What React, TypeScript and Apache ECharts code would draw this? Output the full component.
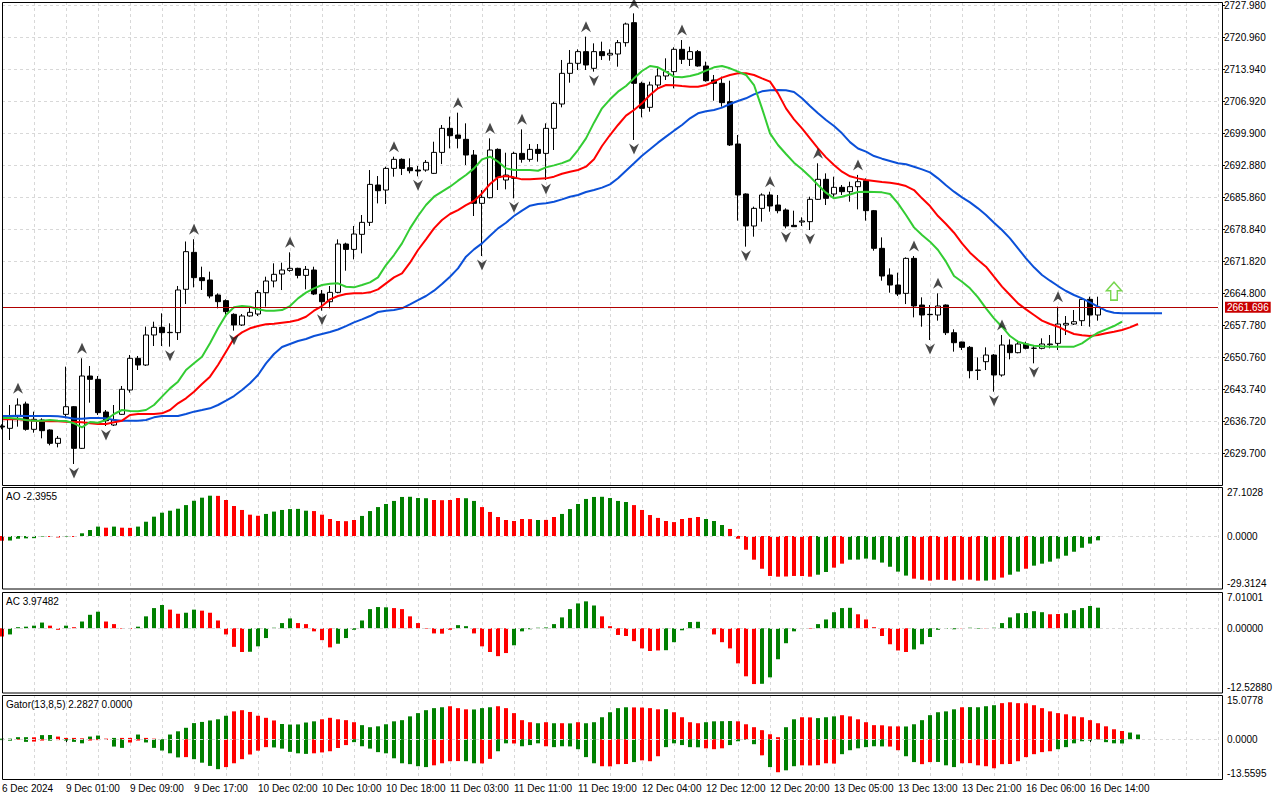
import React, { useEffect, useRef } from "react";
import * as echarts from "echarts";

const FONT = "Liberation Sans";
const GREEN = "#008000";
const RED = "#ff0000";
const GRIDC = "#d8d8d8";

const timeLabels = ["6 Dec 2024","9 Dec 01:00","9 Dec 09:00","9 Dec 17:00","10 Dec 02:00","10 Dec 10:00","10 Dec 18:00","11 Dec 03:00","11 Dec 11:00","11 Dec 19:00","12 Dec 04:00","12 Dec 12:00","12 Dec 20:00","13 Dec 05:00","13 Dec 13:00","13 Dec 21:00","16 Dec 06:00","16 Dec 14:00"];
const SLOTS = 153;

const opens = [2635.60,2635.11,2637.67,2640.45,2634.89,2636.94,2634.75,2631.82,2638.18,2639.86,2630.72,2646.59,2645.86,2638.69,2635.84,2638.18,2643.52,2650.47,2649.00,2655.59,2657.27,2656.10,2656.10,2665.61,2673.72,2668.17,2667.65,2664.36,2663.12,2660.12,2657.78,2659.76,2660.19,2664.87,2667.43,2668.96,2669.77,2670.21,2668.67,2669.84,2664.58,2662.89,2664.94,2675.55,2674.37,2677.67,2680.30,2688.49,2687.39,2692.14,2694.12,2692.29,2691.78,2691.78,2691.05,2695.65,2700.92,2699.46,2698.51,2695.07,2684.47,2685.71,2696.31,2689.59,2689.95,2695.43,2694.12,2696.31,2695.43,2700.92,2706.26,2712.99,2715.19,2717.75,2714.09,2717.75,2717.01,2717.23,2719.72,2724.11,2710.80,2705.53,2710.43,2712.41,2713.36,2718.26,2716.06,2717.75,2714.60,2711.53,2710.80,2706.77,2697.49,2686.52,2679.50,2683.37,2686.30,2684.10,2683.01,2679.64,2680.38,2680.45,2685.35,2689.74,2686.52,2687.98,2687.03,2688.13,2689.44,2682.86,2674.60,2668.75,2666.55,2664.72,2672.40,2662.16,2660.12,2659.97,2662.16,2656.09,2654.05,2652.88,2647.90,2649.73,2651.19,2646.81,2653.39,2651.71,2653.61,2652.66,2652.66,2653.46,2653.75,2657.78,2658.00,2658.73,2663.41,2659.97];
const closes = [2635.40,2637.16,2640.23,2634.89,2637.09,2634.60,2631.82,2632.92,2639.86,2630.72,2646.59,2645.86,2638.55,2636.79,2636.94,2643.67,2650.47,2649.00,2655.59,2657.27,2656.10,2656.17,2665.46,2673.87,2668.17,2667.51,2664.14,2662.90,2660.71,2657.78,2659.76,2660.56,2664.87,2667.43,2668.90,2669.84,2670.21,2668.67,2669.99,2664.58,2662.89,2664.94,2675.55,2674.37,2677.74,2680.30,2688.63,2687.24,2692.14,2694.12,2692.14,2691.63,2691.56,2693.46,2695.65,2700.92,2699.31,2698.73,2695.07,2684.47,2685.78,2696.17,2690.17,2690.68,2695.43,2694.12,2696.31,2695.43,2700.92,2706.40,2712.99,2715.19,2717.75,2714.82,2717.75,2716.87,2717.38,2719.72,2723.81,2710.80,2705.31,2710.43,2712.41,2713.36,2718.26,2716.06,2717.75,2714.60,2711.38,2710.80,2706.56,2697.27,2686.30,2679.50,2683.37,2686.30,2683.89,2682.86,2679.50,2679.35,2680.60,2685.35,2689.74,2685.57,2687.98,2687.03,2688.13,2689.22,2682.86,2674.60,2668.53,2666.55,2664.58,2672.40,2661.95,2659.97,2660.05,2661.95,2656.09,2653.90,2652.88,2647.76,2647.83,2651.19,2646.81,2653.39,2651.71,2653.61,2652.66,2652.70,2653.61,2653.61,2657.99,2658.14,2658.51,2663.41,2659.97,2661.70];
const lows = [2634.90,2632.55,2635.48,2634.60,2634.16,2632.92,2631.38,2630.94,2637.30,2627.29,2630.58,2640.74,2638.04,2635.62,2635.62,2638.04,2642.94,2647.91,2648.79,2653.17,2653.17,2653.03,2654.49,2662.39,2666.04,2665.46,2663.63,2661.44,2659.61,2656.54,2657.56,2659.61,2659.76,2661.80,2666.04,2665.45,2669.47,2668.01,2665.60,2664.35,2660.92,2661.43,2664.72,2669.69,2672.18,2673.50,2679.50,2684.46,2684.32,2690.32,2690.68,2691.05,2690.40,2691.41,2690.90,2693.09,2696.53,2696.53,2692.88,2681.69,2672.91,2685.56,2687.39,2687.54,2685.56,2693.39,2693.61,2693.61,2689.59,2696.17,2705.53,2710.94,2713.72,2713.72,2713.36,2715.92,2715.77,2714.45,2718.84,2698.37,2703.34,2704.58,2709.70,2711.53,2709.70,2715.04,2714.60,2714.45,2711.16,2706.99,2705.68,2697.05,2680.67,2674.97,2677.16,2680.45,2682.64,2682.28,2678.99,2679.35,2679.50,2678.62,2685.20,2684.10,2685.93,2686.30,2684.83,2683.15,2680.67,2674.08,2667.50,2664.87,2664.14,2662.38,2659.46,2657.41,2654.49,2658.73,2655.58,2651.93,2652.29,2646.08,2645.71,2647.90,2643.15,2646.44,2650.24,2651.56,2652.44,2649.37,2652.44,2652.66,2652.29,2655.58,2657.78,2657.56,2657.41,2658.73];
const highs = [2636.00,2640.23,2641.69,2640.96,2638.77,2637.30,2634.89,2633.43,2648.64,2640.01,2650.47,2648.79,2646.59,2639.13,2640.23,2644.40,2651.20,2650.98,2657.42,2658.51,2660.34,2658.15,2666.34,2676.10,2676.60,2670.58,2669.48,2664.73,2663.41,2660.34,2660.19,2661.80,2665.46,2668.38,2671.31,2671.45,2673.72,2670.35,2670.72,2670.57,2665.45,2666.33,2676.57,2675.84,2679.50,2681.91,2691.78,2690.46,2692.51,2694.70,2694.34,2694.34,2692.66,2693.97,2697.99,2701.65,2703.48,2704.36,2702.02,2696.17,2687.39,2698.73,2696.53,2695.58,2695.80,2700.70,2697.48,2697.48,2702.02,2706.77,2715.92,2718.11,2718.26,2721.04,2719.57,2719.94,2718.26,2720.30,2724.11,2726.15,2711.16,2711.16,2714.09,2716.28,2718.70,2720.30,2718.84,2718.11,2715.55,2712.63,2712.26,2711.38,2699.46,2686.66,2683.74,2686.66,2687.03,2686.30,2683.37,2682.86,2681.40,2685.93,2693.25,2691.05,2690.32,2688.49,2689.22,2690.70,2689.95,2683.01,2677.01,2670.21,2669.26,2672.62,2672.91,2663.85,2662.16,2664.72,2662.31,2656.83,2654.12,2653.17,2650.68,2652.88,2651.41,2655.58,2654.63,2654.34,2654.12,2653.17,2654.85,2655.58,2661.80,2659.75,2661.07,2663.63,2663.99,2663.99];

// Alligator: jaw (blue), teeth (red), lips (green), already shifted forward
const jaw = [2637.81,2637.81,2637.89,2637.81,2637.81,2637.81,2637.81,2637.74,2637.52,2637.23,2637.23,2637.38,2637.38,2637.30,2636.94,2636.79,2636.79,2636.79,2636.94,2637.52,2637.81,2637.81,2637.81,2638.26,2638.77,2639.13,2639.50,2640.23,2641.18,2642.20,2643.52,2644.99,2646.81,2649.37,2651.42,2652.95,2653.61,2654.27,2654.71,2655.36,2655.80,2656.24,2656.79,2657.55,2658.36,2659.02,2659.75,2660.63,2660.92,2661.07,2661.43,2662.31,2663.26,2664.14,2665.31,2666.77,2668.38,2670.21,2672.77,2674.37,2675.69,2677.37,2678.98,2680.22,2681.69,2682.86,2683.95,2684.32,2684.47,2684.83,2685.34,2685.93,2686.30,2686.96,2687.40,2687.91,2688.64,2689.96,2691.64,2693.25,2694.93,2696.32,2697.78,2699.10,2700.41,2701.66,2703.12,2704.22,2704.66,2704.95,2705.46,2706.26,2706.92,2707.51,2708.38,2709.04,2709.26,2709.34,2709.26,2708.90,2707.51,2705.82,2704.22,2702.75,2701.44,2699.83,2697.90,2696.50,2695.80,2694.85,2694.27,2693.76,2693.25,2693.03,2692.51,2691.93,2691.27,2689.95,2688.42,2687.03,2685.79,2684.69,2683.37,2681.91,2680.23,2678.62,2676.79,2674.60,2672.40,2670.43,2668.75,2667.50,2666.33,2665.24,2664.36,2663.63,2662.75,2661.80,2660.92,2660.48,2660.34,2660.34,2660.34,2660.34,2660.34,2660.34];
const teeth = [2637.08,2637.08,2637.08,2636.94,2636.79,2636.72,2636.65,2636.65,2636.57,2636.50,2636.43,2636.21,2636.06,2636.06,2636.43,2636.79,2638.04,2638.26,2638.26,2638.26,2638.40,2639.13,2640.60,2641.69,2643.15,2644.84,2646.45,2649.00,2651.93,2654.86,2656.17,2657.05,2657.56,2657.93,2658.07,2658.29,2658.51,2658.87,2659.60,2660.92,2661.94,2663.40,2664.14,2664.58,2664.72,2664.72,2664.94,2665.60,2666.92,2668.23,2669.11,2671.45,2674.23,2676.57,2678.98,2680.81,2682.13,2683.00,2684.10,2684.98,2686.66,2688.71,2690.17,2690.46,2690.17,2689.73,2689.73,2689.88,2689.95,2690.32,2690.97,2691.42,2691.78,2692.51,2694.12,2697.05,2699.46,2701.66,2703.70,2704.95,2706.41,2708.24,2709.70,2710.43,2710.36,2710.21,2710.07,2710.07,2710.43,2711.16,2712.04,2712.63,2712.99,2712.99,2712.63,2711.89,2711.16,2708.60,2705.31,2702.90,2700.92,2698.73,2696.54,2694.56,2692.88,2691.42,2690.40,2689.95,2689.59,2689.37,2689.15,2689.00,2688.71,2688.27,2687.39,2685.57,2683.88,2681.69,2679.93,2678.03,2675.69,2673.65,2672.04,2670.58,2668.38,2666.19,2664.36,2662.53,2661.21,2659.97,2658.73,2658.00,2657.41,2656.53,2655.80,2655.51,2655.36,2655.58,2655.95,2656.31,2656.68,2657.27,2658.00];
const lips = [2637.38,2637.38,2637.23,2636.94,2636.79,2636.79,2636.94,2636.79,2636.72,2636.21,2635.33,2636.50,2636.35,2636.94,2638.26,2639.13,2638.91,2638.84,2639.13,2640.23,2642.06,2643.88,2645.35,2647.91,2649.37,2650.83,2653.76,2657.05,2659.97,2661.66,2661.95,2661.80,2661.22,2660.93,2660.93,2661.06,2661.94,2663.62,2664.87,2665.82,2666.55,2666.84,2666.92,2666.18,2666.04,2666.55,2667.13,2668.23,2670.94,2673.13,2675.69,2678.98,2681.69,2684.10,2685.93,2687.03,2688.12,2689.44,2690.68,2692.14,2694.12,2694.70,2693.61,2692.14,2691.78,2691.78,2691.78,2691.63,2692.36,2692.80,2693.30,2693.98,2696.17,2698.73,2702.17,2705.31,2707.29,2708.97,2710.21,2711.89,2713.50,2714.60,2714.31,2713.36,2712.26,2712.11,2712.41,2712.85,2713.58,2714.31,2714.60,2714.09,2713.36,2712.63,2710.43,2705.31,2699.83,2697.27,2695.29,2693.39,2691.93,2690.32,2688.49,2686.81,2685.57,2685.93,2686.40,2686.96,2687.03,2686.96,2686.88,2686.52,2684.47,2681.91,2679.20,2677.52,2676.06,2674.23,2671.67,2668.53,2667.28,2665.82,2663.85,2661.43,2659.24,2657.41,2655.36,2654.12,2653.61,2653.24,2653.10,2653.02,2653.02,2653.02,2653.02,2653.75,2654.98,2656.09,2656.83,2657.56,2658.51];

const fractalUp = [2,10,24,36,49,57,61,65,73,79,85,96,102,107,114,117,125,132];
const fractalDown = [9,13,21,29,40,52,60,64,68,74,79,93,98,101,116,124,129];

const lastPrice = 2661.696;
const signalBar = 139;
const signalPrice = 2665.2;

const aoValues = [-2.6,-2.5,-1.5,-1.3,-1.2,-0.3,-0.5,-0.8,-0.3,-0.5,1.5,3.3,5.2,4.6,5.2,4.6,4.5,5.2,7.9,10.7,12.9,14.0,15.1,17.1,19.5,21.2,22.3,22.2,19.9,16.6,14.4,11.8,11.2,12.2,13.5,14.4,14.9,15.0,14.0,13.8,11.8,9.4,8.3,8.2,8.85,11.1,13.8,16.0,17.7,19.4,21.6,21.7,21.0,20.9,19.9,19.8,19.9,21.0,20.9,19.4,16.0,13.3,10.5,8.85,8.3,9.4,9.35,8.85,8.9,10.5,12.2,14.9,17.7,20.5,21.6,21.7,21.0,19.4,18.8,17.1,14.4,11.6,10.0,8.3,7.7,9.4,10.0,10.5,9.4,8.3,6.1,3.9,-1.5,-7.6,-13.1,-18.1,-22.1,-22.5,-22.4,-22.1,-22.15,-22.5,-21.4,-19.9,-17.5,-15.3,-13.1,-13.05,-12.5,-13.1,-14.7,-17.0,-19.7,-21.9,-23.6,-24.2,-24.7,-24.2,-24.3,-24.7,-24.2,-24.15,-24.7,-24.65,-24.2,-23.0,-21.4,-19.7,-18.1,-16.4,-15.3,-14.2,-12.5,-10.9,-8.7,-6.5,-4.2,-2.3955];
const aoColors = "rggggg" + "rrgrgggrgrrggggggggggrrrrrrggggggrrrrrrgggggggggrrrrggrrrrrrrgrrgggggggggrrrrrrrrrgggrrrrrrrrrrrggrrggggggggrrrrrrrrrgrrggrggggggggggggggg";
const acValues = [-1.6,-1.2,0.2,0.3,0.5,1.1,0.5,-0.3,0.5,0.2,1.3,2.6,3.2,1.3,0.8,-0.1,-0.15,0.3,2.3,3.9,4.5,3.6,2.8,3.0,3.6,3.4,3.0,1.5,-1.2,-3.6,-4.6,-4.55,-3.5,-1.9,0.1,1.0,1.9,1.0,0.8,-0.6,-2.3,-3.7,-3.0,-1.9,-0.3,1.5,3.7,4.1,4.05,3.9,3.7,2.3,1.0,-0.1,-1.0,-1.05,-0.3,0.6,0.4,-1.0,-3.5,-4.6,-5.4,-4.8,-3.3,-0.6,-0.2,0.1,0.15,0.8,2.1,3.7,4.8,5.2,4.4,2.3,0.4,-1.3,-1.5,-2.5,-3.9,-4.4,-4.3,-4.25,-2.7,-0.4,1.2,1.25,0.05,-1.2,-2.7,-3.9,-6.8,-9.3,-10.8,-10.75,-9.5,-6.0,-2.9,-0.6,0.05,-0.1,0.8,1.7,3.1,3.9,3.95,2.7,1.7,0.2,-1.5,-3.1,-4.3,-4.6,-4.1,-3.1,-1.7,-0.3,-0.1,-0.2,-0.05,0.1,-0.1,0.05,0.1,1.0,2.1,2.9,2.95,3.3,3.1,2.7,2.75,2.9,3.5,3.9,4.3,3.97482];
const acColors = "rggggg" + "rrgrgggrrrrggggrrggrrrrrrggggggrrrrrgggggggrrrrrrrrggrrrrrgggggggggggrrrrrrrrggggggrrrrrrggggggrgggggrrrrrrrggggggrggrgggggggrrgggggr";

const gatorUpper = [0.2,0.2,0.7,0.7,0.65,1.4,1.45,0.9,0.45,0.45,0.3,0.9,1.25,0.2,0.45,0.45,0.45,1.6,0.45,0.2,0.05,1.6,2.7,3.9,5.5,5.9,6.4,6.8,8.0,9.5,9.9,9.3,8.0,7.3,6.4,5.2,5.0,5.05,5.7,6.1,6.8,7.3,6.8,6.5,5.8,4.8,4.1,4.4,5.1,6.1,6.5,7.8,8.9,9.9,10.6,10.9,11.25,10.6,10.2,10.15,10.6,10.9,11.25,10.6,8.9,6.5,5.8,5.45,5.8,5.45,5.46,5.4,5.8,5.45,5.8,7.5,9.2,10.6,10.9,10.85,10.8,10.6,10.2,10.25,9.2,7.5,5.8,5.45,5.8,6.1,6.15,6.2,6.1,5.1,4.1,3.1,1.7,0.7,4.1,6.8,7.5,7.45,7.2,7.5,7.8,8.2,7.8,6.8,5.8,4.8,4.75,4.4,4.38,4.35,5.1,6.5,8.2,9.2,9.5,10.2,10.9,10.95,10.9,11.25,11.6,12.3,12.6,12.3,12.25,11.6,10.6,9.5,8.9,8.5,7.8,7.5,6.5,5.45,4.4,3.4,2.8,2.28,1.6];
const gatorUpperColors = "gggg" + "rggrrrrggrgrrgrrgggggggggrrrrrrggggg" + "rrrrrgggggggggggrrrgggrrrrrgrgrgrggggggrrrrgrrrrgggg" + "rrrrrrggrrgggrrrrrrrrgggggggrggggrrrrrrrrrrrrrrrr";
const gatorLower = [-0.3,-0.5,-0.2,-0.9,-0.8,-0.45,-0.5,-0.3,-0.45,-0.9,-1.4,-0.45,-0.3,-0.25,-2.5,-2.95,-1.1,-0.45,-1.1,-2.95,-3.85,-4.8,-6.2,-6.1,-6.8,-8.0,-9.1,-10.2,-9.5,-8.2,-6.8,-5.2,-3.9,-2.7,-2.8,-3.2,-4.3,-4.8,-5.0,-4.8,-4.5,-4.1,-3.0,-2.0,-1.0,-2.4,-3.2,-4.4,-4.8,-6.5,-8.2,-8.5,-9.2,-9.5,-8.9,-8.2,-7.5,-7.45,-7.5,-8.2,-8.25,-6.7,-4.1,-1.4,-1.45,-2.4,-2.0,-1.4,-2.4,-2.7,-2.4,-2.45,-3.4,-6.1,-8.2,-9.2,-9.25,-8.5,-8.45,-7.8,-7.2,-7.5,-5.8,-2.7,-1.4,-2.0,-2.7,-2.75,-3.1,-3.4,-3.1,-2.0,-0.7,-0.2,-1.7,-5.5,-9.5,-11.25,-10.6,-9.2,-8.9,-8.95,-8.85,-8.2,-8.3,-5.1,-3.75,-3.1,-2.7,-2.4,-2.45,-2.5,-3.75,-5.8,-7.8,-8.5,-7.8,-7.75,-8.9,-9.5,-8.2,-8.15,-8.9,-9.2,-9.9,-8.5,-8.45,-7.5,-6.1,-5.1,-4.4,-4.1,-3.4,-2.7,-1.4,-0.7,-0.45,-0.1,-1.0,-1.4,-1.45];
const gatorLowerColors = "ggrgrrgrgggrrrggrrgggggrgggg" + "rrrrrrggggg" + "rrrrrggggggggggrrrrggrrgg" + "rgggrggggggrrrrgrrrgggggrrrgggg" + "rgrggrrrrrggggggrrggrrggg" + "rrrrrrrrrrrrggg";

const AO_MAX = 27.1028, AO_MIN = -29.3124;
const AC_MAX = 7.01001, AC_MIN = -12.5288;
const G_MAX = 15.0778, G_MIN = -13.5595;
const PRICE_MIN = 2622.68, PRICE_MAX = 2728.64, PRICE_STEP = 7.02;

const UP_ARROW = "path://M5,0 L10,11 L5,7.5 L0,11 Z";
const DOWN_ARROW = "path://M5,11 L10,0 L5,3.5 L0,0 Z";
const SIGNAL_ARROW = "path://M8,0 L16,9 L11.5,9 L11.5,19 L4.5,19 L4.5,9 L0,9 Z";

const colorOf = (s: string, i: number) => (s.charAt(i) === "r" ? RED : GREEN);

function subFormatter(min: number, max: number, dec: number) {
  return (v: number) => {
    if (Math.abs(v - max) < 1e-6) return "\n" + max.toFixed(dec);
    if (Math.abs(v - min) < 1e-6) return min.toFixed(dec) + "\n";
    if (Math.abs(v) < 1e-6) return (0).toFixed(dec);
    return "";
  };
}

export default function App() {
  const ref = useRef<HTMLDivElement>(null);

  useEffect(() => {
    if (!ref.current) return;
    const chart = echarts.init(ref.current, undefined, { renderer: "svg" });
    const cats = Array.from({ length: SLOTS }, (_, i) => String(i));
    const gridDefs = [
      { top: 2, height: 483 },
      { top: 487, height: 102 },
      { top: 592, height: 101 },
      { top: 695, height: 84 },
    ];
    const splitX = {
      show: true,
      interval: (idx: number) => idx % 4 === 0,
      lineStyle: { color: GRIDC, type: [3, 3], width: 1 },
    };
    const labelIdx = (idx: number) => idx % 8 === 0 && idx / 8 < timeLabels.length;
    const xAxes = gridDefs.map((_, gi) => ({
      type: "category",
      gridIndex: gi,
      data: cats,
      boundaryGap: false,
      axisLine: { show: false },
      axisTick: gi === 3 ? { show: true, interval: labelIdx, length: 3, lineStyle: { color: "#000" } } : { show: false },
      axisLabel: gi === 3
        ? {
            show: true,
            interval: labelIdx,
            align: "left",
            margin: 4,
            fontSize: 10,
            fontFamily: FONT,
            color: "#000",
            formatter: (v: string) => {
              const i = parseInt(v, 10);
              return i % 8 === 0 && timeLabels[i / 8] ? timeLabels[i / 8] : "";
            },
          }
        : { show: false },
      splitLine: splitX,
    }));

    const subAxis = (gi: number, min: number, max: number, dec: number) => ({
      type: "value",
      gridIndex: gi,
      position: "right",
      offset: 4,
      min,
      max,
      interval: -min,
      axisLine: { show: false },
      axisTick: { show: false },
      splitLine: { show: false },
      axisLabel: {
        showMinLabel: true,
        showMaxLabel: true,
        fontSize: 10,
        lineHeight: 11,
        fontFamily: FONT,
        color: "#000",
        margin: 5,
        formatter: subFormatter(min, max, dec),
      },
    });

    const zeroLine = {
      silent: true,
      symbol: ["none", "none"],
      label: { show: false },
      lineStyle: { color: GRIDC, type: [3, 3], width: 1 },
      data: [{ yAxis: 0 }],
    };

    const option = {
      animation: false,
      backgroundColor: "#ffffff",
      textStyle: { fontFamily: FONT },
      grid: gridDefs.map((g) => ({ left: 2, right: 62, top: g.top, height: g.height, containLabel: false, outerBoundsMode: "none" })),
      xAxis: xAxes,
      yAxis: [
        {
          type: "value",
          gridIndex: 0,
          position: "right",
          offset: 4,
          min: PRICE_MIN,
          max: PRICE_MAX,
          interval: PRICE_STEP,
          axisLine: { show: false },
          axisTick: { show: true, length: 3, lineStyle: { color: "#000" } },
          axisLabel: {
            showMinLabel: false,
            showMaxLabel: false,
            fontSize: 10,
            fontFamily: FONT,
            color: "#000",
            margin: 2,
            formatter: (v: number) => v.toFixed(3),
          },
          splitLine: { show: true, lineStyle: { color: GRIDC, type: [3, 3], width: 1 } },
        },
        subAxis(1, AO_MIN, AO_MAX, 4),
        subAxis(2, AC_MIN, AC_MAX, 5),
        subAxis(3, G_MIN, G_MAX, 4),
      ],
      series: [
        {
          type: "candlestick",
          xAxisIndex: 0,
          yAxisIndex: 0,
          barWidth: 5,
          z: 2,
          data: opens.map((o, i) => [o, closes[i], lows[i], highs[i]]),
          itemStyle: { color: "#ffffff", color0: "#000000", borderColor: "#000000", borderColor0: "#000000", borderWidth: 1 },
          markLine: {
            silent: true,
            symbol: ["none", "none"],
            lineStyle: { color: "#b00000", type: "solid", width: 1 },
            label: {
              show: true,
              position: "end",
              distance: 7,
              formatter: () => lastPrice.toFixed(3),
              color: "#ffffff",
              backgroundColor: "#c80000",
              padding: [1, 2, 0, 2],
              fontSize: 10,
              fontFamily: FONT,
            },
            data: [{ yAxis: lastPrice }],
          },
        },
        { type: "line", xAxisIndex: 0, yAxisIndex: 0, data: jaw, showSymbol: false, z: 3, lineStyle: { color: "#0b50d8", width: 2 } },
        { type: "line", xAxisIndex: 0, yAxisIndex: 0, data: teeth, showSymbol: false, z: 3, lineStyle: { color: "#ff0000", width: 2 } },
        { type: "line", xAxisIndex: 0, yAxisIndex: 0, data: lips, showSymbol: false, z: 3, lineStyle: { color: "#33cc33", width: 2 } },
        {
          type: "scatter",
          xAxisIndex: 0,
          yAxisIndex: 0,
          z: 4,
          symbol: UP_ARROW,
          symbolSize: [10, 11],
          symbolOffset: [0, -10],
          itemStyle: { color: "#1c1c1c" },
          data: fractalUp.map((k) => [k, highs[k]]),
        },
        {
          type: "scatter",
          xAxisIndex: 0,
          yAxisIndex: 0,
          z: 4,
          symbol: DOWN_ARROW,
          symbolSize: [10, 11],
          symbolOffset: [0, 9],
          itemStyle: { color: "#1c1c1c" },
          data: fractalDown.map((k) => [k, lows[k]]),
        },
        {
          type: "scatter",
          xAxisIndex: 0,
          yAxisIndex: 0,
          z: 4,
          symbol: SIGNAL_ARROW,
          symbolSize: [15, 18],
          itemStyle: { color: "#ffffff", borderColor: "#55cc22", borderWidth: 1.5 },
          data: [[signalBar, signalPrice]],
        },
        {
          type: "bar",
          xAxisIndex: 1,
          yAxisIndex: 1,
          barWidth: 4,
          data: aoValues.map((v, i) => ({ value: v, itemStyle: { color: colorOf(aoColors, i) } })),
          markLine: zeroLine,
        },
        {
          type: "bar",
          xAxisIndex: 2,
          yAxisIndex: 2,
          barWidth: 4,
          data: acValues.map((v, i) => ({ value: v, itemStyle: { color: colorOf(acColors, i) } })),
          markLine: zeroLine,
        },
        {
          type: "bar",
          xAxisIndex: 3,
          yAxisIndex: 3,
          barWidth: 4,
          barGap: "-100%",
          data: gatorUpper.map((v, i) => ({ value: v, itemStyle: { color: colorOf(gatorUpperColors, i) } })),
          markLine: zeroLine,
        },
        {
          type: "bar",
          xAxisIndex: 3,
          yAxisIndex: 3,
          barWidth: 4,
          barGap: "-100%",
          data: gatorLower.map((v, i) => ({ value: v, itemStyle: { color: colorOf(gatorLowerColors, i) } })),
        },
      ],
      graphic: [
        { type: "rect", z: 100, silent: true, shape: { x: 2.5, y: 2.5, width: 1220, height: 483 }, style: { fill: "none", stroke: "#000", lineWidth: 1 } },
        { type: "rect", z: 100, silent: true, shape: { x: 2.5, y: 487.5, width: 1220, height: 101.5 }, style: { fill: "none", stroke: "#000", lineWidth: 1 } },
        { type: "rect", z: 100, silent: true, shape: { x: 2.5, y: 592.5, width: 1220, height: 100.5 }, style: { fill: "none", stroke: "#000", lineWidth: 1 } },
        { type: "rect", z: 100, silent: true, shape: { x: 2.5, y: 695.5, width: 1220, height: 84 }, style: { fill: "none", stroke: "#000", lineWidth: 1 } },
        { type: "text", z: 100, silent: true, style: { text: "AO -2.3955", x: 6, y: 496, fill: "#000", fontSize: 10, fontFamily: FONT, verticalAlign: "middle" } },
        { type: "text", z: 100, silent: true, style: { text: "AC 3.97482", x: 6, y: 601, fill: "#000", fontSize: 10, fontFamily: FONT, verticalAlign: "middle" } },
        { type: "text", z: 100, silent: true, style: { text: "Gator(13,8,5) 2.2827 0.0000", x: 6, y: 704, fill: "#000", fontSize: 10, fontFamily: FONT, verticalAlign: "middle" } },
      ],
    };
    chart.setOption(option as any);
    return () => chart.dispose();
  }, []);

  return (
    <div
      ref={ref}
      style={{ position: "fixed", left: 0, top: 0, width: 1280, height: 800, background: "#fff" }}
    />
  );
}
